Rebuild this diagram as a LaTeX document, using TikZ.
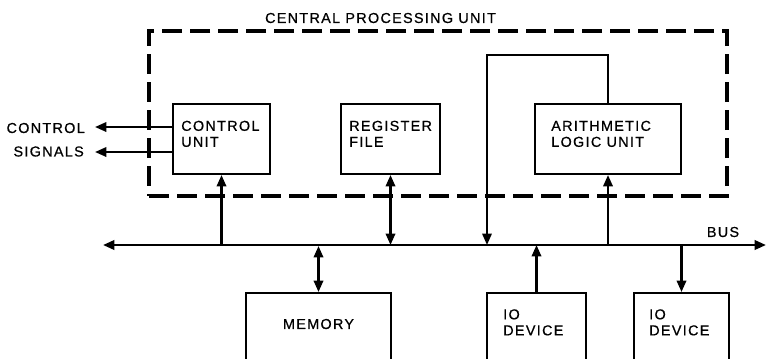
\documentclass[tikz,border=0pt]{standalone}
\usepackage{fontspec}
\setmainfont[LetterSpace=9,FakeBold=0.6]{Liberation Sans}
\usetikzlibrary{arrows.meta,fit}
\begin{document}
\begin{tikzpicture}[x=0.75pt,y=-0.75pt,
  box/.style={draw,line width=1.5pt,inner sep=0pt},
  dbox/.style={draw,line width=2.3pt,inner sep=0pt,dash pattern=on 15pt off 6pt},
  lbl/.style={font=\fontsize{10.8}{12}\selectfont,inner sep=0pt,align=left},
  arr/.style={line width=1.7pt,-{Triangle[length=8.5pt,width=7pt]}},
  darr/.style={line width=1.7pt,{Triangle[length=8.5pt,width=7pt]}-{Triangle[length=8.5pt,width=7pt]}}
]
\useasboundingbox (0,0) rectangle (766,358);
\clip (0,0) rectangle (766,358);
\fill[white] (0,0) rectangle (766,358);

% CPU dashed outline
\node[dbox,fit={(149,31) (727,196)}] (cpu) {};
\node[lbl,anchor=center] (cputxt) at (380.5,18) {CENTRAL PROCESSING UNIT};

% CPU blocks
\node[box,fit={(173,104) (270,174)}] (cu) {};
\node[lbl,anchor=north west] (cutxt) at (181,120.5) {CONTROL\\UNIT};
\node[box,fit={(341,104) (440,174)}] (rf) {};
\node[lbl,anchor=north west] (rftxt) at (349,120.5) {REGISTER\\FILE};
\node[box,fit={(535,104) (681,174)}] (alu) {};
\node[lbl,anchor=north west] (alutxt) at (551,120.5) {ARITHMETIC\\LOGIC UNIT};

% control signals
\coordinate (cs1) at (95,127);
\coordinate (cs2) at (95,152);
\draw[arr] (cu.west|-cs1) -- (cs1);
\draw[arr] (cu.west|-cs2) -- (cs2);
\node[lbl,anchor=east] (cstxt1) at (85,128) {CONTROL};
\node[lbl,anchor=east] (cstxt2) at (84,151.5) {SIGNALS};

% bus
\coordinate (bl) at (103,245);
\coordinate (br) at (766,245);
\draw[darr,line width=1.9pt] (bl) -- (br);
\node[lbl,anchor=center] (bustxt) at (723,232) {BUS};

% lower blocks
\node[box,fit={(246,293) (391,375)}] (mem) {};
\node[lbl,anchor=center] (memtxt) at (318.5,324) {MEMORY};
\node[box,fit={(487,293) (586,375)}] (io1) {};
\node[lbl,anchor=north west] (io1txt) at (503,309) {IO\\DEVICE};
\node[box,fit={(634,293) (729,375)}] (io2) {};
\node[lbl,anchor=north west] (io2txt) at (649,309) {IO\\DEVICE};

% connections to bus
\draw[arr] (cu.south|-bl) -- (cu.south);
\draw[darr] (rf.south) -- (rf.south|-bl);
\draw[arr] (alu.south|-bl) -- (alu.south);
\coordinate (lt) at (487,55);
\draw[arr,line width=1.5pt] (alu.north) |- (lt) -- (lt|-bl);
\draw[darr] ([yshift=-0.75pt]mem.north|-bl) -- (mem.north);
\draw[arr] (io1.north) -- (io1.north|-bl);
\draw[arr] (io2.north|-bl) -- (io2.north);
\end{tikzpicture}
\end{document}
